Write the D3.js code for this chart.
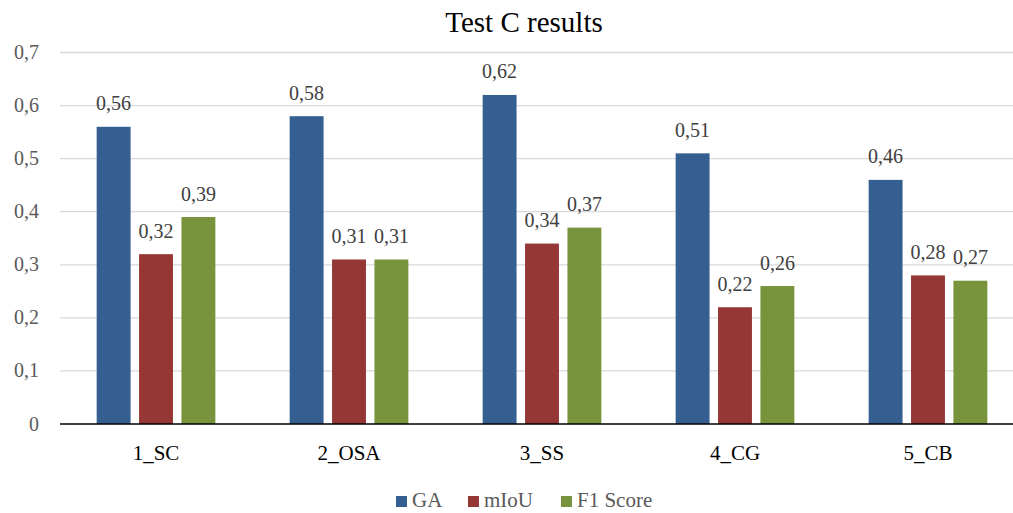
<!DOCTYPE html>
<html><head><meta charset="utf-8">
<script src="https://cdn.jsdelivr.net/npm/d3@7"></script>
<style>body{margin:0;background:#fff}svg{display:block}</style>
</head><body>
<script>
const categories = ["1_SC","2_OSA","3_SS","4_CG","5_CB"];
const seriesNames = ["GA","mIoU","F1 Score"];
const GA = [0.56,0.58,0.62,0.51,0.46];
const mIoU = [0.32,0.31,0.34,0.22,0.28];
const F1 = [0.39,0.31,0.37,0.26,0.27];
const yTicks = [0,0.1,0.2,0.3,0.4,0.5,0.6,0.7];
const colors = ["#365f91","#953735","#77933c"];
const series = [GA,mIoU,F1];

const W=1013,H=513;
const font="'Liberation Serif','DejaVu Serif',serif";
const svg=d3.select("body").append("svg").attr("width",W).attr("height",H);
const x=d3.scaleBand().domain(categories).range([60,1024]).paddingInner(0.385).paddingOuter(0.19);
const xs=d3.scaleBand().domain(seriesNames).range([0,x.bandwidth()]).paddingInner(0.2);
const y=d3.scaleLinear().domain([0,0.7]).range([424,52.5]);
const fmt=v=>d3.format(".1f")(v).replace(".",",");
const fmt2=v=>d3.format(".2f")(v).replace(".",",");

// gridlines
svg.append("g").selectAll("line").data(yTicks.filter(d=>d>0)).join("line")
 .attr("x1",60).attr("x2",W).attr("y1",d=>y(d)).attr("y2",d=>y(d))
 .attr("stroke","#d9d9d9").attr("stroke-width",1.3);
// y labels
svg.append("g").selectAll("text").data(yTicks).join("text")
 .attr("x",39).attr("y",d=>y(d)+6.5).attr("text-anchor","end")
 .attr("font-family",font).attr("font-size",20).attr("fill","#595959").text(d=>d===0?"0":fmt(d));
// bars
seriesNames.forEach((s,i)=>{
  const g=svg.append("g");
  g.selectAll("rect").data(categories).join("rect")
   .attr("x",c=>x(c)+xs(s)).attr("width",xs.bandwidth())
   .attr("y",(c,j)=>y(series[i][j])).attr("height",(c,j)=>y(0)-y(series[i][j]))
   .attr("fill",colors[i]);
  g.selectAll("text").data(categories).join("text")
   .attr("x",c=>x(c)+xs(s)+xs.bandwidth()/2).attr("y",(c,j)=>y(series[i][j])-16.5)
   .attr("text-anchor","middle").attr("font-family",font).attr("font-size",20).attr("fill","#404040")
   .text((c,j)=>fmt2(series[i][j]));
});
// axis line
svg.append("line").attr("x1",60).attr("x2",W).attr("y1",y(0)).attr("y2",y(0)).attr("stroke","#000").attr("stroke-width",1.5);
// x labels
svg.append("g").selectAll("text").data(categories).join("text")
 .attr("x",c=>x(c)+x.bandwidth()/2).attr("y",460).attr("text-anchor","middle")
 .attr("font-family",font).attr("font-size",21).attr("fill","#000").text(c=>c);
// title
svg.append("text").attr("x",524).attr("y",32).attr("text-anchor","middle")
 .attr("font-family",font).attr("font-size",29).attr("fill","#000").text("Test C results");
// legend
const legX=[396,468,561];
seriesNames.forEach((s,i)=>{
  svg.append("rect").attr("x",legX[i]).attr("y",496).attr("width",11).attr("height",11).attr("fill",colors[i]);
  svg.append("text").attr("x",legX[i]+16).attr("y",507)
   .attr("font-family",font).attr("font-size",21).attr("fill","#595959").text(s);
});
</script>
</body></html>
